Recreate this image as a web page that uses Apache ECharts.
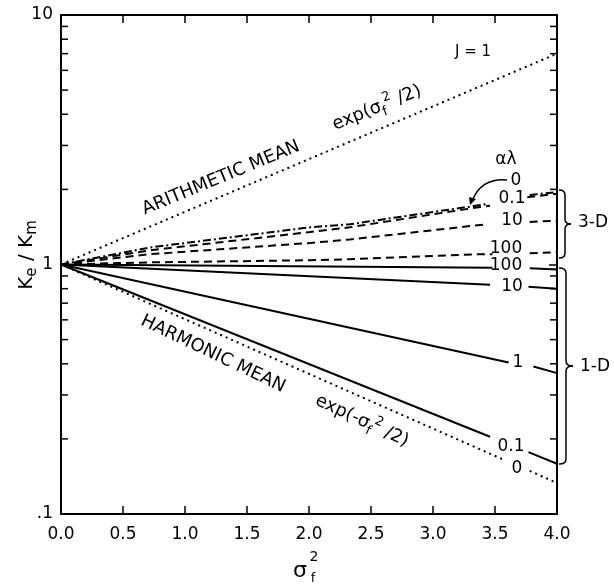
<!DOCTYPE html>
<html>
<head>
<meta charset="utf-8">
<script src="https://cdn.jsdelivr.net/npm/echarts@6/dist/echarts.min.js"></script>
<style>
html, body { margin: 0; padding: 0; background: #fff; }
#chart { width: 614px; height: 584px; }
</style>
</head>
<body>
<div id="chart"></div>
<script>
// axis ticks
var xTickLabels = ['0.0', '0.5', '1.0', '1.5', '2.0', '2.5', '3.0', '3.5', '4.0'];
var yTicks = [0.1, 1, 10];
var yTickLabels = ['.1', '1', '10'];
var yMinorTicks = [0.2, 0.3, 0.4, 0.5, 0.6, 0.7, 0.8, 0.9, 2, 3, 4, 5, 6, 7, 8, 9];

// means (dotted)
var arithmeticMean = [[0, 1], [4, 7.0]];
var harmonicMean = [[0, 1], [3.57, 0.165]];
var harmonicMeanTail = [[3.78, 0.149], [4, 0.133]];

// 3-D curves, alpha*lambda = 0, 0.1, 10, 100 (dashed)
var d3_0 = [[0, 1], [0.72, 1.17], [2.01, 1.41], [2.33, 1.45], [3.38, 1.73], [3.44, 1.75]];
var d3_0Tail = [[3.78, 1.90], [4, 1.95]];
var d3_01 = [[0, 1], [0.72, 1.14], [2.01, 1.35], [2.33, 1.41], [3.38, 1.70], [3.46, 1.72]];
var d3_01Tail = [[3.76, 1.86], [4, 1.92]];
var d3_10 = [[0, 1], [0.72, 1.10], [2.01, 1.22], [2.33, 1.26], [3.38, 1.44], [3.44, 1.45]];
var d3_10Tail = [[3.78, 1.48], [4, 1.50]];
var d3_100 = [[0, 1], [0.72, 1.02], [2.01, 1.04], [2.33, 1.05], [3.38, 1.10], [3.48, 1.10]];
var d3_100Tail = [[3.78, 1.11], [4, 1.12]];

// 1-D curves, alpha*lambda = 100, 10, 1, 0.1 (solid)
var d1_100 = [[0, 1], [3.48, 0.97]];
var d1_100Tail = [[3.78, 0.965], [4, 0.955]];
var d1_10 = [[0, 1], [3.46, 0.83]];
var d1_10Tail = [[3.77, 0.815], [4, 0.80]];
var d1_1 = [[0, 1], [3.61, 0.405]];
var d1_1Tail = [[3.81, 0.39], [4, 0.367]];
var d1_01 = [[0, 1], [3.46, 0.204]];
var d1_01Tail = [[3.77, 0.177], [4, 0.159]];

var FONT = 'DejaVu Sans';
var DOTTED = [2, 4];
var DASHED = [8, 5];
var DASHDOT = [8, 3, 2, 3];

function line(data, type) {
  return {
    type: 'line', data: data, symbol: 'none', silent: true, animation: false,
    lineStyle: { color: '#000', width: 2, type: type }, z: 3
  };
}

function label(text, x, y, size, rot) {
  return {
    type: 'text', x: x, y: y, rotation: (rot || 0) * Math.PI / 180,
    style: { text: text, fill: '#000', font: size + 'px "' + FONT + '"', align: 'center', verticalAlign: 'middle' }
  };
}

function richLabel(text, x, y, size, rot) {
  var el = label(text, x, y, size, rot);
  el.style.rich = {
    a: { fontSize: size, fontFamily: FONT, lineHeight: 26, verticalAlign: 'middle' },
    sub: { fontSize: size - 5, fontFamily: FONT, lineHeight: 12, verticalAlign: 'bottom' },
    sup: { fontSize: size - 5, fontFamily: FONT, lineHeight: 12, verticalAlign: 'top' }
  };
  return el;
}

var thin = { stroke: '#000', fill: null, lineWidth: 1.5 };

function quad(x1, y1, cx, cy, x2, y2) {
  return { type: 'bezierCurve', shape: { x1: x1, y1: y1, cpx1: cx, cpy1: cy, x2: x2, y2: y2 }, style: thin };
}

function seg(x1, y1, x2, y2) {
  return { type: 'line', shape: { x1: x1, y1: y1, x2: x2, y2: y2 }, style: thin };
}

// curly brace opening to the left
function brace(x0, y1, y2, depth) {
  var m = (y1 + y2) / 2, a = x0 + depth / 2, t = x0 + depth, r = 5;
  return {
    type: 'group', children: [
      quad(x0, y1, a, y1, a, y1 + r),
      seg(a, y1 + r, a, m - r),
      quad(a, m - r, a, m, t, m),
      quad(t, m, a, m, a, m + r),
      seg(a, m + r, a, y2 - r),
      quad(a, y2 - r, a, y2, x0, y2)
    ]
  };
}

var axisLine = { show: true, onZero: false, lineStyle: { color: '#000', width: 2 } };
var axisTick = { show: true, inside: true, length: 8, lineStyle: { color: '#000', width: 1.5 } };

var chart = echarts.init(document.getElementById('chart'));
chart.setOption({
  animation: false,
  backgroundColor: '#fff',
  grid: { left: 61, right: 57, top: 15, bottom: 70 },
  xAxis: [{
    type: 'value', min: 0, max: 4, interval: 0.5, position: 'bottom',
    axisLine: axisLine, axisTick: axisTick, splitLine: { show: false },
    axisLabel: {
      margin: 12, color: '#000', fontSize: 17, fontFamily: FONT,
      formatter: function (v) { return xTickLabels[Math.round(v * 2)]; }
    }
  }, {
    type: 'value', min: 0, max: 4, interval: 0.5, position: 'top',
    axisLine: axisLine, axisTick: axisTick, splitLine: { show: false }, axisLabel: { show: false }
  }],
  yAxis: [{
    type: 'log', logBase: 10, min: 0.1, max: 10, position: 'left',
    axisLine: axisLine, axisTick: axisTick, splitLine: { show: false },
    axisLabel: {
      margin: 8, color: '#000', fontSize: 17, fontFamily: FONT,
      formatter: function (v) {
        for (var i = 0; i < yTicks.length; i++) {
          if (Math.abs(Math.log10(v) - Math.log10(yTicks[i])) < 0.01) return yTickLabels[i];
        }
        return '';
      }
    }
  }, {
    type: 'log', logBase: 10, min: 0.1, max: 10, position: 'right',
    axisLine: axisLine, axisTick: axisTick, splitLine: { show: false }, axisLabel: { show: false }
  }],
  series: [
    line(arithmeticMean, DOTTED),
    line(harmonicMean, DOTTED), line(harmonicMeanTail, DOTTED),
    line(d3_0, DASHDOT), line(d3_0Tail, DASHDOT),
    line(d3_01, DASHED), line(d3_01Tail, DASHED),
    line(d3_10, DASHED), line(d3_10Tail, DASHED),
    line(d3_100, DASHED), line(d3_100Tail, DASHED),
    line(d1_100, 'solid'), line(d1_100Tail, 'solid'),
    line(d1_10, 'solid'), line(d1_10Tail, 'solid'),
    line(d1_1, 'solid'), line(d1_1Tail, 'solid'),
    line(d1_01, 'solid'), line(d1_01Tail, 'solid'),
    {
      // log minor ticks on left and right frame
      type: 'custom', silent: true, clip: false,
      data: yMinorTicks.map(function (v) { return [0, v]; }),
      encode: { x: 0, y: 1 },
      renderItem: function (params, api) {
        var v = api.value(1);
        var l = api.coord([0, v]);
        var r = api.coord([4, v]);
        var st = { stroke: '#000', lineWidth: 1.5 };
        return {
          type: 'group', children: [
            { type: 'line', shape: { x1: l[0], y1: l[1], x2: l[0] + 7, y2: l[1] }, style: st },
            { type: 'line', shape: { x1: r[0], y1: r[1], x2: r[0] - 7, y2: r[1] }, style: st }
          ]
        };
      }
    }
  ],
  graphic: [
    label('J = 1', 473, 52, 15),
    label('ARITHMETIC MEAN', 221, 178, 18, 22.5),
    richLabel('{a|exp(σ}{sub|f}{sup|2}{a| /2)}', 377, 108, 18, 22),
    label('HARMONIC MEAN', 213, 354, 18, -25.5),
    richLabel('{a|exp(-σ}{sub|f}{sup|2}{a| /2)}', 362, 421, 18, -25),
    label('αλ', 506, 160, 17),
    label('0', 516, 181, 17),
    label('0.1', 512, 199, 17),
    label('10', 512, 221, 17),
    label('100', 506, 249, 17),
    label('100', 506, 266, 17),
    label('10', 512, 287, 17),
    label('1', 518, 363, 17),
    label('0.1', 511, 447, 17),
    label('0', 517, 469, 17),
    label('3-D', 593, 223, 17),
    label('1-D', 595, 367, 17),
    brace(559, 190, 258, 12),
    brace(559, 268, 464, 14),
    quad(507, 180, 482, 178, 473, 199),
    {
      type: 'polygon',
      shape: { points: [[470, 205], [476, 199], [469, 197]] },
      style: { fill: '#000' }
    },
    // axis names
    label('σ', 300, 571, 22),
    label('2', 314, 557, 14),
    label('f', 313, 579, 13),
    richLabel('{a|K}{sub|e}{a| / K}{sub|m}', 27, 255, 20, 90)
  ]
});
</script>
</body>
</html>
